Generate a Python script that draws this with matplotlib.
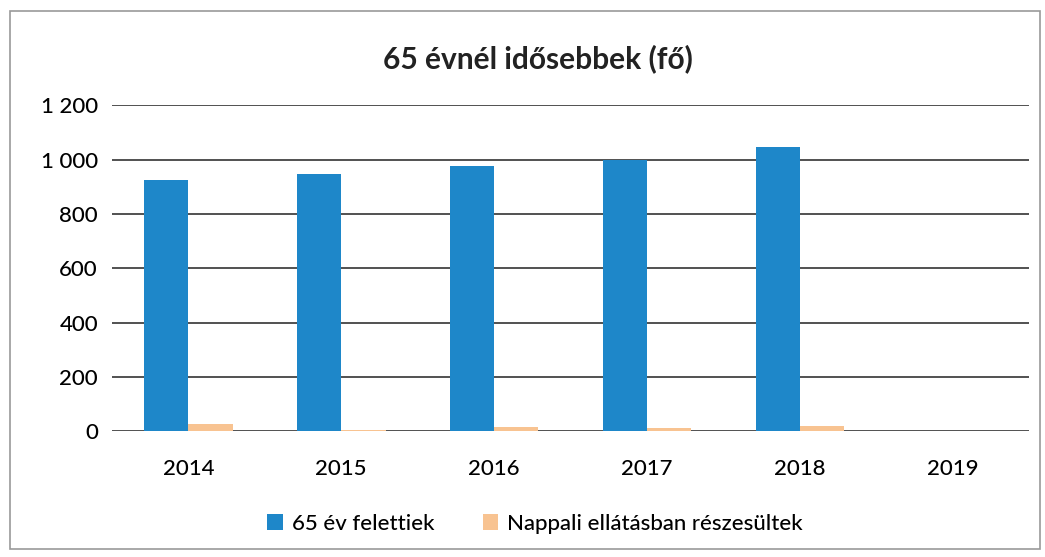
import matplotlib
matplotlib.use("Agg")
import matplotlib.pyplot as plt
import numpy as np
from matplotlib.patches import Rectangle

years = ["2014", "2015", "2016", "2017", "2018", "2019"]
over65 = [926, 948, 977, 1000, 1045, 0]
daycare = [26, 5, 15, 12, 20, 0]
yticks = [0, 200, 400, 600, 800, 1000, 1200]
ytick_labels = ["0", "200", "400", "600", "800", "1 000", "1 200"]

plt.rcParams['font.family'] = ['Lato', 'DejaVu Sans']

fig = plt.figure(figsize=(10.45, 5.57), dpi=100)
ax = fig.add_axes([0.107, 0.226, 0.878, 0.585])

x = np.arange(len(years))
w = 0.29
blue = "#1e87c9"
orange = "#f8c391"
ax.bar(x - w/2, over65, width=w, color=blue, label="65 év felettiek", zorder=3)
ax.bar(x + w/2, daycare, width=w, color=orange, label="Nappali ellátásban részesültek", zorder=3)

ax.set_xlim(-0.5, len(years) - 0.5)
ax.set_ylim(0, 1200)
ax.set_yticks(yticks)
ax.set_yticklabels(ytick_labels, fontsize=16, fontweight='medium')
ax.set_xticks(x)
ax.set_xticklabels(years, fontsize=16, fontweight='medium')
ax.tick_params(axis='x', length=0, pad=20)
ax.tick_params(axis='y', length=0, pad=10)
ax.grid(axis='y', color='#333333', linewidth=1.2, zorder=0)
for s in ax.spines.values():
    s.set_visible(False)
ax.axhline(0, color='#555555', linewidth=1.2, zorder=2)

fig.text(0.515, 0.895, "65 évnél idősebbek (fő)", ha='center', va='center',
         fontsize=21.5, fontweight='bold', color='#222222')

fig.legend(loc='center', bbox_to_anchor=(0.512, 0.06), ncol=2, frameon=False,
           prop={'size': 16, 'weight': 'medium'}, handlelength=0.7, handleheight=0.7,
           columnspacing=2.2, handletextpad=0.4)

fig.patches.append(Rectangle((0.01, 0.015), 0.985, 0.965, transform=fig.transFigure,
                             fill=False, edgecolor='#999999', linewidth=1.2))

fig.savefig("out.png", dpi=100)
